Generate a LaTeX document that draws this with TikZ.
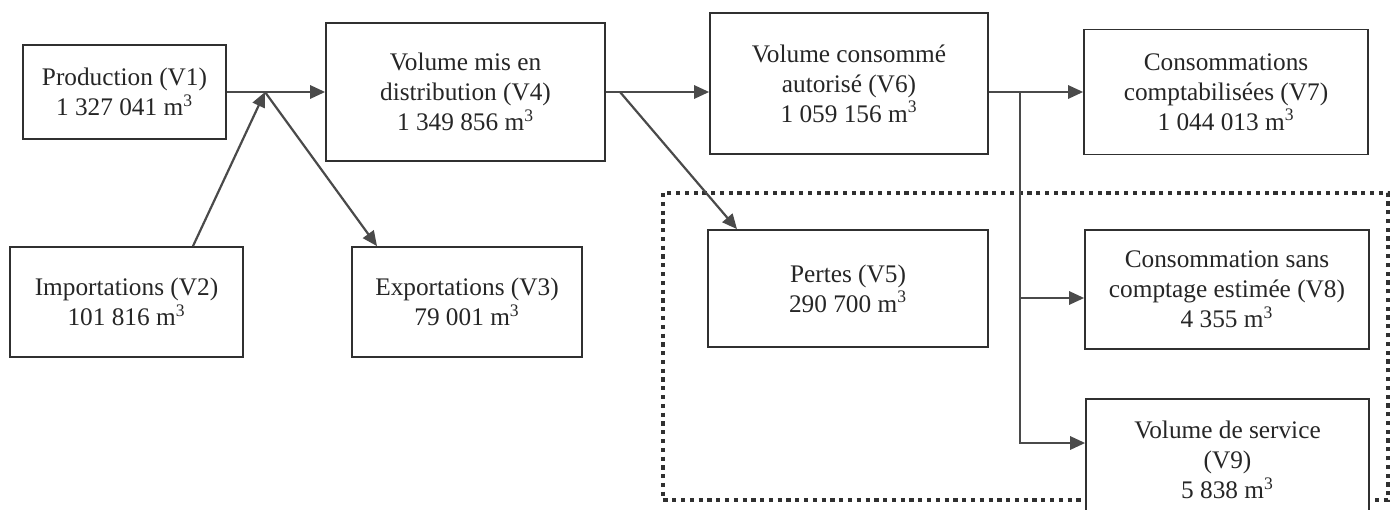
\documentclass[tikz,border=0pt]{standalone}
\usepackage{fontspec}
\setmainfont{Liberation Serif}
\usetikzlibrary{arrows.meta, positioning}
\definecolor{trait}{HTML}{4A4A4A}
\definecolor{cadre}{HTML}{303030}
\tikzset{
  boite/.style={draw=cadre, line width=1pt, fill=white, align=center, inner sep=0pt,
    font=\fontsize{14.4}{17}\selectfont, text=black!85},
  fleche/.style={draw=trait, line width=1.25pt, -{Triangle[length=8.5pt,width=7.5pt]}},
  pertes/.style={draw=cadre, line width=2.6pt, dash pattern=on 2.4pt off 2.6pt}
}

\begin{document}
\begin{tikzpicture}[x=0.02cm, y=-0.02cm]
  \clip (0,0) rectangle (1396,510);

  % Cadre des pertes
  \draw[pertes] (663,193) rectangle (1388,500);

  % Boites
  \node[boite, minimum width=4.06cm, minimum height=1.88cm] (V1) at (124.5,92) {Production (V1)\\1 327 041 m\textsuperscript{3}};
  \node[boite, minimum width=4.66cm, minimum height=2.2cm] (V2) at (126.5,302) {Importations (V2)\\101 816 m\textsuperscript{3}};
  \node[boite, minimum width=4.6cm, minimum height=2.2cm] (V3) at (467,302) {Exportations (V3)\\79 001 m\textsuperscript{3}};
  \node[boite, minimum width=5.58cm, minimum height=2.76cm] (V4) at (465.5,92) {Volume mis en\\distribution (V4)\\1 349 856 m\textsuperscript{3}};
  \node[boite, minimum width=5.6cm, minimum height=2.34cm] (V5) at (848,288.5) {Pertes (V5)\\290 700 m\textsuperscript{3}};
  \node[boite, minimum width=5.56cm, minimum height=2.82cm] (V6) at (849,83.5) {Volume consommé\\autorisé (V6)\\1 059 156 m\textsuperscript{3}};
  \node[boite, minimum width=5.68cm, minimum height=2.5cm] (V7) at (1226,92) {Consommations\\comptabilisées (V7)\\1 044 013 m\textsuperscript{3}};
  \node[boite, minimum width=5.68cm, minimum height=2.38cm] (V8) at (1227,289.5) {Consommation sans\\comptage estimée (V8)\\4 355 m\textsuperscript{3}};
  \node[boite, minimum width=5.66cm, minimum height=2.44cm] (V9) at (1227.5,460) {Volume de service\\(V9)\\5 838 m\textsuperscript{3}};

  % Points de jonction
  \coordinate (jA) at (265,92);
  \coordinate (jB) at (620,92);
  \coordinate (jC) at (1020,92);
  \coordinate (e8) at ([yshift=-0.17cm]V8.west);
  \coordinate (e9) at ([yshift=0.34cm]V9.west);

  % Fleches
  \draw[fleche] (V1.east) -- (V4.west);
  \draw[fleche] ([xshift=1.33cm]V2.north) -- (jA);
  \draw[fleche] (jA) -- ([xshift=-1.8cm]V3.north);
  \draw[fleche] (V4.east) -- (V6.west |- V4.east);
  \draw[fleche] (jB) -- ([xshift=-2.22cm]V5.north);
  \draw[fleche] (V6.east |- V7.west) -- (V7.west);
  \draw[fleche] (jC) |- (e9);
  \draw[fleche] (jC |- e8) -- (e8);
\end{tikzpicture}
\end{document}
